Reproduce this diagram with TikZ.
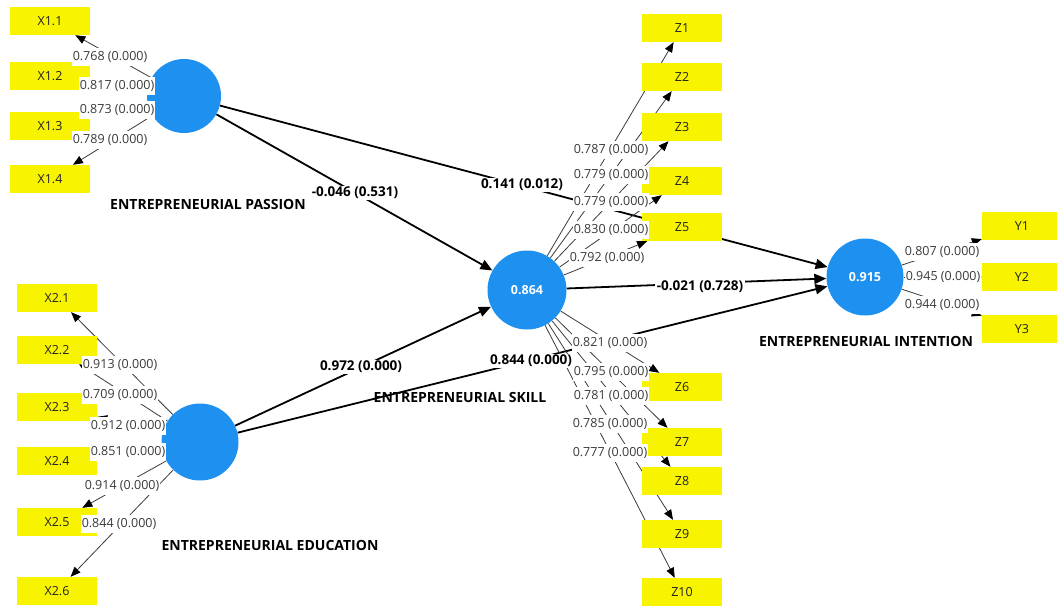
\documentclass[tikz,border=0pt]{standalone}
\usepackage{fontspec}
\setmainfont{Open Sans}
\usepackage{xcolor}
\definecolor{PLSblue}{HTML}{1E90F0}
\definecolor{PLSyellow}{HTML}{F8F400}
\definecolor{LoadGray}{HTML}{3A3A3A}
\definecolor{BoxText}{HTML}{222222}
\usetikzlibrary{arrows.meta}
\pgfdeclarelayer{bg}
\pgfsetlayers{bg,main}

\begin{document}
\begin{tikzpicture}[x=1pt,y=-1pt,every node/.style={font=\fontsize{12.5}{14}\selectfont, align=center}, construct/.style={circle, fill=PLSblue, text=white, inner sep=0pt, font=\fontsize{12.5}{14}\selectfont\bfseries}, indicator/.style={fill=PLSyellow, text=BoxText, minimum width=80pt, minimum height=28pt, inner sep=0pt}, loading/.style={fill=white, text=LoadGray, inner xsep=1.2pt, inner ysep=3pt}, pathcoef/.style={fill=white, inner sep=1.5pt, font=\fontsize{13.5}{15}\selectfont\bfseries}, lvname/.style={font=\fontsize{14}{16}\selectfont\bfseries}, innerpath/.style={-{Triangle[length=12pt,width=10pt]}, line width=1.8pt}, outerpath/.style={-{Triangle[length=10pt,width=8pt,color=black]}, line width=0.8pt, LoadGray}]
        \useasboundingbox (0,0) rectangle (1057,606);
        % constructs
        \node[construct, minimum size=74pt] (passion) at (184,96) {};
        \node[construct, minimum size=77pt] (education) at (200,442) {};
        \node[construct, minimum size=79pt] (skill) at (527,290) {0.864};
        \node[construct, minimum size=77pt] (intention) at (865,277) {0.915};
        \node[lvname] (passionname) at (208,204) {ENTREPRENEURIAL PASSION};
        \node[lvname] (educationname) at (270,545) {ENTREPRENEURIAL EDUCATION};
        \node[lvname] (skillname) at (460,397) {ENTREPRENEURIAL SKILL};
        \node[lvname] (intentionname) at (866,341) {ENTREPRENEURIAL INTENTION};
        % indicators
        \node[indicator] (x11) at (50,21) {X1.1};
        \node[indicator] (x12) at (50,76) {X1.2};
        \node[indicator] (x13) at (50,126) {X1.3};
        \node[indicator] (x14) at (50,179) {X1.4};
        \node[indicator] (x21) at (57,298) {X2.1};
        \node[indicator] (x22) at (57,350) {X2.2};
        \node[indicator] (x23) at (57,407) {X2.3};
        \node[indicator] (x24) at (57,461) {X2.4};
        \node[indicator] (x25) at (57,522) {X2.5};
        \node[indicator] (x26) at (57,591) {X2.6};
        \node[indicator] (z1) at (682,28) {Z1};
        \node[indicator] (z2) at (682,77) {Z2};
        \node[indicator] (z3) at (682,127) {Z3};
        \node[indicator] (z4) at (682,181) {Z4};
        \node[indicator] (z5) at (682,227) {Z5};
        \node[indicator] (z6) at (682,387) {Z6};
        \node[indicator] (z7) at (682,442) {Z7};
        \node[indicator] (z8) at (682,481) {Z8};
        \node[indicator] (z9) at (682,534) {Z9};
        \node[indicator] (z10) at (682,592) {Z10};
        \node[indicator] (y1) at (1022,226) {Y1};
        \node[indicator] (y2) at (1022,277) {Y2};
        \node[indicator] (y3) at (1022,329) {Y3};
        % connectors
        \begin{pgfonlayer}{bg}
        \draw[innerpath] (passion) -- (skill);
        \draw[innerpath] (passion) -- (intention);
        \draw[innerpath] (education) -- (skill);
        \draw[innerpath] (education) -- (intention);
        \draw[innerpath] (skill) -- (intention);
        \draw[outerpath] (passion) -- (x11);
        \draw[outerpath] (passion) -- (x12);
        \draw[outerpath] (passion) -- (x13);
        \draw[outerpath] (passion) -- (x14);
        \draw[outerpath] (education) -- (x21);
        \draw[outerpath] (education) -- (x22);
        \draw[outerpath] (education) -- (x23);
        \draw[outerpath] (education) -- (x24);
        \draw[outerpath] (education) -- (x25);
        \draw[outerpath] (education) -- (x26);
        \draw[outerpath] (skill) -- (z1);
        \draw[outerpath] (skill) -- (z2);
        \draw[outerpath] (skill) -- (z3);
        \draw[outerpath] (skill) -- (z4);
        \draw[outerpath] (skill) -- (z5);
        \draw[outerpath] (skill) -- (z6);
        \draw[outerpath] (skill) -- (z7);
        \draw[outerpath] (skill) -- (z8);
        \draw[outerpath] (skill) -- (z9);
        \draw[outerpath] (skill) -- (z10);
        \draw[outerpath] (intention) -- (y1);
        \draw[outerpath] (intention) -- (y2);
        \draw[outerpath] (intention) -- (y3);
        \end{pgfonlayer}
        % loadings
        \node[loading] (lx11) at (110,57) {0.768 (0.000)};
        \node[loading] (lx12) at (117,86) {0.817 (0.000)};
        \node[loading] (lx13) at (117,110) {0.873 (0.000)};
        \node[loading] (lx14) at (110,140) {0.789 (0.000)};
        \node[loading] (lx21) at (120,365) {0.913 (0.000)};
        \node[loading] (lx22) at (120,395) {0.709 (0.000)};
        \node[loading] (lx23) at (128,426) {0.912 (0.000)};
        \node[loading] (lx24) at (128,452) {0.851 (0.000)};
        \node[loading] (lx25) at (122,486) {0.914 (0.000)};
        \node[loading] (lx26) at (119,524) {0.844 (0.000)};
        \node[loading] (lz1) at (611,150) {0.787 (0.000)};
        \node[loading] (lz2) at (611,175) {0.779 (0.000)};
        \node[loading] (lz3) at (611,202) {0.779 (0.000)};
        \node[loading] (lz4) at (611,230) {0.830 (0.000)};
        \node[loading] (lz5) at (607,258) {0.792 (0.000)};
        \node[loading] (lz6) at (610,343) {0.821 (0.000)};
        \node[loading] (lz7) at (611,372) {0.795 (0.000)};
        \node[loading] (lz8) at (611,396) {0.781 (0.000)};
        \node[loading] (lz9) at (610,424) {0.785 (0.000)};
        \node[loading] (lz10) at (610,453) {0.777 (0.000)};
        \node[loading] (ly1) at (942,252) {0.807 (0.000)};
        \node[loading] (ly2) at (943,277) {0.945 (0.000)};
        \node[loading] (ly3) at (942,305) {0.944 (0.000)};
        % path coefficients
        \node[pathcoef] (cps) at (355,193) {-0.046 (0.531)};
        \node[pathcoef] (cpi) at (522,185) {0.141 (0.012)};
        \node[pathcoef] (ces) at (361,367) {0.972 (0.000)};
        \node[pathcoef] (cei) at (531,361) {0.844 (0.000)};
        \node[pathcoef] (csi) at (700,287) {-0.021 (0.728)};
    \end{tikzpicture}
\end{document}
